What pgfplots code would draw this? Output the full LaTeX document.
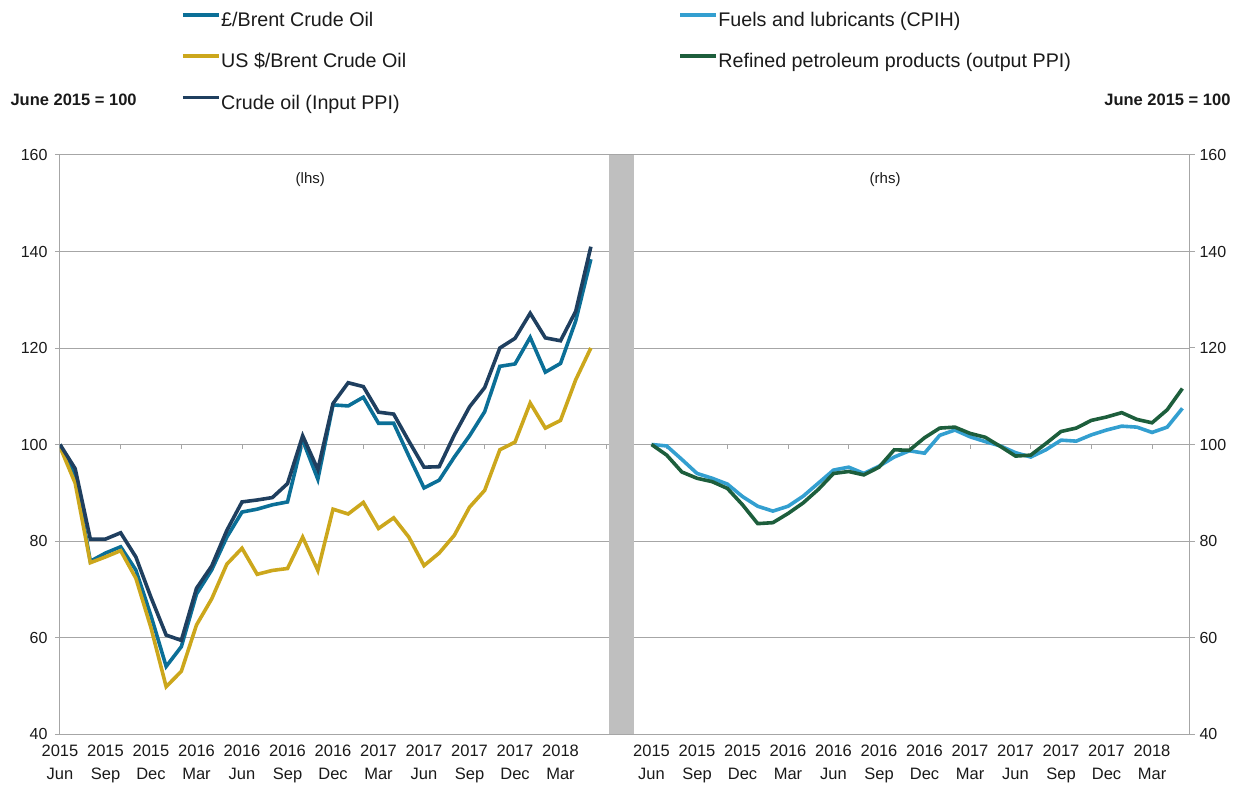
\documentclass[border=0pt]{standalone}
\usepackage{fontspec}
\setmainfont{Liberation Sans}
\usepackage{pgfplots}
\usepackage{pgfplotstable}
\pgfplotsset{compat=1.18}
\definecolor{navy}{HTML}{1F3F5F}
\definecolor{teal}{HTML}{0B6F97}
\definecolor{gold}{HTML}{CCA71C}
\definecolor{lblue}{HTML}{339FD0}
\definecolor{dgreen}{HTML}{1D5E3C}
\definecolor{gridgray}{HTML}{A6A6A6}
\definecolor{bargray}{HTML}{BFBFBF}
\definecolor{txt}{HTML}{1A1A1A}

\pgfplotstableread{
x gbp usd crude
0 100 99.5 100
1 93.5 92 95
2 75.8 75.5 80.4
3 77.5 76.7 80.4
4 78.8 78 81.7
5 74 72.3 76.7
6 64.5 62 68.3
7 54 49.8 60.5
8 58.1 53 59.4
9 69 62.6 70.2
10 74 68 74.8
11 80.8 75.2 82.2
12 86 78.5 88.1
13 86.6 73.1 88.5
14 87.5 73.9 89
15 88.1 74.3 91.9
16 100.9 80.8 101.8
17 92.8 73.9 94.8
18 108.2 86.6 108.5
19 108 85.6 112.8
20 109.8 88 112
21 104.4 82.6 106.7
22 104.4 84.8 106.3
23 97.6 80.8 100.7
24 91 74.9 95.3
25 92.6 77.5 95.4
26 97.4 81.2 102
27 101.8 87 107.8
28 106.8 90.5 111.8
29 116.2 98.9 120
30 116.7 100.5 122
31 122.2 108.6 127.2
32 115 103.4 122.1
33 116.8 105 121.5
34 125.6 113.4 127.6
35 138.4 120 141
}\lefttab

\pgfplotstableread{
x cpih ppi
39 100 100
40 99.7 97.8
41 96.9 94.3
42 94 93
43 93 92.3
44 91.8 90.9
45 89.2 87.5
46 87.2 83.6
47 86.2 83.8
48 87.2 85.7
49 89.3 87.9
50 92 90.7
51 94.7 94
52 95.3 94.4
53 94 93.7
54 95.5 95.3
55 97.4 98.9
56 98.7 98.8
57 98.2 101.4
58 101.9 103.4
59 103 103.6
60 101.6 102.3
61 100.6 101.5
62 99.7 99.6
63 98.3 97.6
64 97.4 97.8
65 98.9 100.2
66 100.9 102.7
67 100.7 103.4
68 102 105
69 103 105.7
70 103.8 106.6
71 103.6 105.2
72 102.5 104.5
73 103.6 107.2
74 107.5 111.6
}\righttab

\pgfplotsset{
  common/.style={
    at={(0pt,0pt)}, anchor=south west,
    scale only axis, width=1130pt, height=579pt,
    xmin=0, xmax=74.5, ymin=40, ymax=160,
    ytick={40,60,...,160},
    /pgf/number format/assume math mode=true,
    tick align=outside, major tick length=5pt,
    ytick style={draw=gridgray, line width=1pt},
    yticklabel style={font=\fontsize{16}{19}\selectfont, text=txt},
    legend cell align=left,
    legend style={draw=none, fill=none, inner sep=0pt, row sep=26pt,
      font=\fontsize{19.7}{23}\selectfont,
      nodes={inner xsep=0.5pt, inner ysep=0pt, text height=13pt, text depth=2pt, text=txt}},
    legend image code/.code={\draw[##1, line width=3.6pt] (0pt,6pt) -- (36pt,6pt);},
  }
}

\begin{document}
\begin{tikzpicture}
\useasboundingbox (-60pt,-51pt) rectangle (1176pt,734pt);
\begin{axis}[common,
  axis line style={draw=gridgray, line width=1pt},
  ymajorgrids, grid style={draw=gridgray, line width=1pt},
  ytick pos=left,
  yticklabel style={xshift=-4pt},
  xtick={0,3,...,33,39,42,...,72},
  xticklabels={{2015\\Jun},{2015\\Sep},{2015\\Dec},{2016\\Mar},{2016\\Jun},{2016\\Sep},{2016\\Dec},{2017\\Mar},{2017\\Jun},{2017\\Sep},{2017\\Dec},{2018\\Mar},
               {2015\\Jun},{2015\\Sep},{2015\\Dec},{2016\\Mar},{2016\\Jun},{2016\\Sep},{2016\\Dec},{2017\\Mar},{2017\\Jun},{2017\\Sep},{2017\\Dec},{2018\\Mar}},
  xtick style={draw=none},
  xticklabel style={font=\fontsize{16.5}{22.5}\selectfont, text=txt, align=center, yshift=-2.5pt},
  legend style={at={(0.1070,1.2453)}, anchor=north west},
]
\addplot[forget plot, draw=none, fill=bargray] coordinates {(36.2,40) (37.85,40) (37.85,160) (36.2,160)} -- cycle;
\addplot[teal, line width=3.6pt] table[x=x, y=gbp] {\lefttab};
\addlegendentry{£/Brent Crude Oil}
\addplot[gold, line width=3.6pt] table[x=x, y=usd] {\lefttab};
\addlegendentry{US \$/Brent Crude Oil}
\addplot[navy, line width=3.6pt] table[x=x, y=crude] {\lefttab};
\addlegendentry{Crude oil (Input PPI)}
\pgfplotsinvokeforeach{4,8,...,72}{\draw[gridgray, line width=1pt] (axis cs:#1,100) -- ++(0pt,-4pt);}
\node[font=\fontsize{15}{18}\selectfont, text=txt] at (axis cs:16.5,154.8) {(lhs)};
\node[font=\fontsize{15}{18}\selectfont, text=txt] at (axis cs:54.4,154.8) {(rhs)};
\end{axis}
\begin{axis}[common,
  axis y line*=right, hide x axis,
  y axis line style={draw=gridgray, line width=1pt},
  ytick pos=right, yticklabel pos=right,
  yticklabel style={xshift=1pt},
  legend style={at={(0.5470,1.2453)}, anchor=north west},
]
\addplot[lblue, line width=3.6pt] table[x=x, y=cpih] {\righttab};
\addlegendentry{Fuels and lubricants (CPIH)}
\addplot[dgreen, line width=3.6pt] table[x=x, y=ppi] {\righttab};
\addlegendentry{Refined petroleum products (output PPI)}
\end{axis}
\node[anchor=west, font=\bfseries\fontsize{16.5}{19}\selectfont, text=txt] at (-53pt,634pt) {June 2015 = 100};
\node[anchor=east, font=\bfseries\fontsize{16.5}{19}\selectfont, text=txt] at (1174pt,634pt) {June 2015 = 100};
\end{tikzpicture}
\end{document}
